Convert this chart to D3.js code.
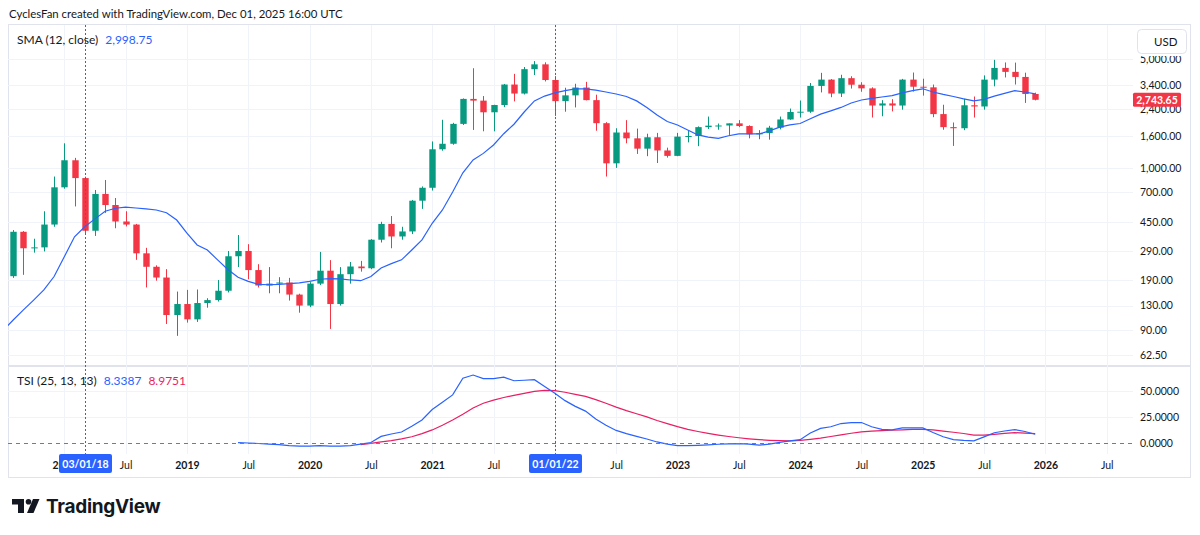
<!DOCTYPE html>
<html>
<head>
<meta charset="utf-8">
<script src="https://cdn.jsdelivr.net/npm/d3@7"></script>
<style>
  html, body { margin: 0; padding: 0; background: #ffffff; }
  svg { display: block; font-family: Lato, "Liberation Sans", sans-serif; }
</style>
</head>
<body>
<div id="chart"></div>
<script>
// ETHUSD monthly candles
const months = [
  "2017-08", "2017-09", "2017-10", "2017-11", "2017-12",
  "2018-01", "2018-02", "2018-03", "2018-04", "2018-05", "2018-06", "2018-07", "2018-08", "2018-09", "2018-10", "2018-11", "2018-12",
  "2019-01", "2019-02", "2019-03", "2019-04", "2019-05", "2019-06", "2019-07", "2019-08", "2019-09", "2019-10", "2019-11", "2019-12",
  "2020-01", "2020-02", "2020-03", "2020-04", "2020-05", "2020-06", "2020-07", "2020-08", "2020-09", "2020-10", "2020-11", "2020-12",
  "2021-01", "2021-02", "2021-03", "2021-04", "2021-05", "2021-06", "2021-07", "2021-08", "2021-09", "2021-10", "2021-11", "2021-12",
  "2022-01", "2022-02", "2022-03", "2022-04", "2022-05", "2022-06", "2022-07", "2022-08", "2022-09", "2022-10", "2022-11", "2022-12",
  "2023-01", "2023-02", "2023-03", "2023-04", "2023-05", "2023-06", "2023-07", "2023-08", "2023-09", "2023-10", "2023-11", "2023-12",
  "2024-01", "2024-02", "2024-03", "2024-04", "2024-05", "2024-06", "2024-07", "2024-08", "2024-09", "2024-10", "2024-11", "2024-12",
  "2025-01", "2025-02", "2025-03", "2025-04", "2025-05", "2025-06", "2025-07", "2025-08", "2025-09", "2025-10", "2025-11", "2025-12",
];

const open = [
  201, 388, 304, 308, 432,
  750, 1120, 860, 394, 680, 577, 452, 432, 282, 231, 197, 113,
  133, 106, 135, 141, 162, 270, 292, 220, 175, 180, 183, 153,
  130, 180, 218, 133, 207, 232, 226, 345, 436, 362, 390, 615,
  745, 1318, 1430, 1920, 2780, 2710, 2280, 2540, 3440, 3010, 4320, 4640,
  3680, 2690, 2930, 3290, 2730, 1940, 1070, 1690, 1550, 1330, 1575, 1295,
  1195, 1590, 1605, 1830, 1870, 1875, 1935, 1860, 1645, 1675, 1815, 2050,
  2290, 2300, 3370, 3700, 3010, 3780, 3430, 3250, 2520, 2600, 2520, 3700,
  3330, 3300, 2220, 1830, 1800, 2530, 2485, 3700, 4400, 4150, 3850, 2990,
];
const high = [
  398, 392, 350, 526, 880,
  1440, 1160, 878, 721, 836, 640, 526, 436, 306, 236, 223, 160,
  164, 165, 145, 190, 292, 370, 323, 240, 230, 198, 196, 155,
  184, 288, 255, 230, 248, 252, 348, 450, 490, 418, 622, 760,
  1480, 2040, 1950, 2800, 4380, 2900, 2550, 3470, 4030, 4460, 4870, 4780,
  3900, 3280, 3480, 3580, 2960, 1970, 1800, 2030, 1790, 1660, 1680, 1350,
  1680, 1740, 1850, 2140, 1930, 1930, 2030, 1880, 1750, 1865, 2140, 2410,
  2715, 3520, 4090, 3730, 3975, 3890, 3560, 3300, 2730, 2770, 3740, 4110,
  3750, 3440, 2550, 1960, 2790, 2880, 3940, 4960, 4770, 4760, 4100, 3050,
];
const low = [
  196, 205, 285, 290, 418,
  735, 565, 375, 365, 513, 409, 420, 256, 170, 188, 99, 83,
  101, 102, 126, 138, 158, 230, 192, 170, 156, 156, 140, 117,
  127, 176, 92, 130, 180, 215, 223, 331, 304, 345, 375, 545,
  715, 1290, 1410, 1890, 1755, 1720, 1720, 2460, 2680, 2970, 3960, 3600,
  2160, 2300, 2450, 2720, 1735, 880, 1000, 1440, 1230, 1190, 1075, 1165,
  1190, 1460, 1380, 1780, 1760, 1630, 1830, 1550, 1530, 1520, 1770, 2040,
  2110, 2260, 3060, 2850, 2860, 3240, 3090, 2110, 2150, 2310, 2370, 3100,
  2920, 2120, 1760, 1385, 1750, 2110, 2370, 3350, 3820, 3440, 2620, 2720,
];
const close = [
  388, 304, 308, 432, 750,
  1120, 860, 394, 680, 577, 452, 432, 282, 231, 197, 113, 133,
  106, 135, 141, 162, 270, 292, 220, 175, 180, 183, 153, 130,
  180, 218, 133, 207, 232, 226, 345, 436, 362, 390, 615, 745,
  1318, 1430, 1920, 2780, 2710, 2280, 2540, 3440, 3010, 4320, 4640, 3680,
  2690, 2930, 3290, 2730, 1940, 1070, 1690, 1550, 1330, 1575, 1295, 1195,
  1590, 1605, 1830, 1870, 1875, 1935, 1860, 1645, 1675, 1815, 2050, 2290,
  2300, 3370, 3700, 3010, 3780, 3430, 3250, 2520, 2600, 2520, 3700, 3330,
  3300, 2220, 1830, 1800, 2530, 2485, 3700, 4400, 4150, 3850, 2990, 2743.65,
];

// SMA (12, close), one value a month from 2017-07
const smaFrom = "2017-07";
const sma = [
  90, 105, 122, 141, 164, 200,
  268, 360, 418, 470, 526, 550, 560, 552, 545, 536, 515, 462,
  380, 319, 296, 256, 222, 198, 186, 178, 177, 178, 180, 182,
  186, 192, 194, 193, 190, 188, 200, 227, 242, 256, 296, 344,
  440, 536, 700, 930, 1125, 1240, 1405, 1660, 1910, 2290, 2700, 2900,
  3040, 3140, 3230, 3230, 3170, 3080, 2990, 2880, 2700, 2450, 2190, 1990,
  1890, 1755, 1630, 1580, 1550, 1610, 1655, 1655, 1655, 1730, 1830, 1890,
  1930, 2070, 2220, 2330, 2450, 2615, 2735, 2800, 2860, 2920, 3040, 3140,
  3230, 3080, 2970, 2880, 2780, 2700, 2760, 2900, 3020, 3140, 3080, 2998.75,
];

// TSI (25, 13, 13)
const tsiFrom = "2019-06";
const tsi = [
  0.3, 0, -0.5, -1, -1.5, -2.5, -3,
  -3, -2.5, -3, -3, -2.5, -1, 0.5, 6.3, 8.6, 10.5, 16, 22,
  32, 39, 46, 62, 65, 61.5, 61.5, 63, 59.5, 60, 60.5, 54,
  47.5, 40.5, 35, 30.5, 23, 17, 12, 9, 6.3, 3.8, 1, -1,
  -2.5, -2.5, -2.2, -1.8, -1.2, -0.8, -0.6, -1, -2, -1, 0.6, 2,
  3.2, 9.5, 14, 15.5, 18.6, 19.5, 19.6, 15.5, 13, 12.5, 14.4, 14.4,
  14.4, 10, 6, 3.3, 2.5, 2, 5.8, 9.8, 11.5, 12.8, 11, 8.3387,
];
const signalFrom = "2020-06";
const signal = [
  -1.5, -0.3, 1, 2.3, 4, 6, 9,
  12.5, 17, 22, 27.5, 33.5, 38, 41, 43.5, 45.5, 47.5, 49.3, 50.3,
  50, 48.5, 46.5, 44.5, 41.5, 38, 34.3, 31, 28, 25, 21.5, 18.5,
  15.6, 13, 11, 9.2, 7.6, 6.2, 5, 4, 3.2, 2.6, 2.2, 2,
  2.5, 3.5, 4.7, 6.2, 7.8, 9.3, 10.6, 11.4, 11.9, 12.2, 12.6, 13,
  13.1, 12.5, 11.4, 10.3, 9.1, 7.6, 7.6, 8.3, 9.2, 9.9, 9.5, 8.9751,
];

const timeTicks = [
  "2018-01", "2018-07", "2019-01", "2019-07", "2020-01", "2020-07", "2021-01", "2021-07", "2022-01",
  "2022-07", "2023-01", "2023-07", "2024-01", "2024-07", "2025-01", "2025-07", "2026-01", "2026-07",
];
const priceTicks = [62.5, 90, 130, 190, 290, 450, 700, 1000, 1600, 2400, 3400, 5000];
const tsiTicks = [0, 25, 50];
const markers = ["2018-03", "2022-01"];

const width = 1200;
const height = 535;
const frame = { left: 8, top: 25, right: 1191, bottom: 478 };
const plotRight = 1133;
const mainPane = { top: 25, bottom: 365 };
const tsiPane = { top: 367, bottom: 454 };

const colors = {
  up: "#089981",
  down: "#f23645",
  sma: "#2962ff",
  tsi: "#2962ff",
  signal: "#e91e63",
  grid: "#f0f3fa",
  border: "#e0e3eb",
  text: "#131722",
};

const monthIndex = (s) => {
  const [y, m] = s.split("-").map(Number);
  return (y - 2018) * 12 + (m - 1);
};
const fromStart = (start, values) =>
  values.map((v, i) => ({ t: monthIndex(start) + i, v }));

const candles = months.map((m, i) => ({
  t: monthIndex(m),
  o: open[i],
  h: high[i],
  l: low[i],
  c: close[i],
}));
const lastPrice = close[close.length - 1];

const svg = d3
  .select("#chart")
  .append("svg")
  .attr("width", width)
  .attr("height", height)
  .attr("viewBox", `0 0 ${width} ${height}`);

const x = d3
  .scaleLinear()
  .domain([monthIndex("2018-01"), monthIndex("2026-01")])
  .range([64.3, 1045.4]);

const y = d3.scaleLog().domain([62.5, 5000]).range([355, 59.3]);
const yTsi = d3.scaleLinear().domain([0, 50]).range([443, 390.7]);
const px = (v) => Math.round(v) + 0.5;

const defs = svg.append("defs");
defs.append("clipPath").attr("id", "clip-main")
  .append("rect")
  .attr("x", frame.left).attr("y", mainPane.top)
  .attr("width", plotRight - frame.left).attr("height", mainPane.bottom - mainPane.top);
defs.append("clipPath").attr("id", "clip-tsi")
  .append("rect")
  .attr("x", frame.left).attr("y", tsiPane.top)
  .attr("width", plotRight - frame.left).attr("height", tsiPane.bottom - tsiPane.top);

// header
svg.append("text")
  .attr("x", 9)
  .attr("y", 18)
  .attr("fill", colors.text)
  .attr("font-size", 11.4)
  .text("CyclesFan created with TradingView.com, Dec 01, 2025 16:00 UTC");

// frame
svg.append("rect")
  .attr("x", frame.left + 0.5)
  .attr("y", frame.top - 0.5)
  .attr("width", frame.right - frame.left - 1)
  .attr("height", frame.bottom - frame.top)
  .attr("fill", "none")
  .attr("stroke", colors.border);

svg.append("line")
  .attr("x1", frame.left).attr("x2", frame.right)
  .attr("y1", 366).attr("y2", 366)
  .attr("stroke", colors.border)
  .attr("stroke-width", 2);

// grid
const grid = svg.append("g");
grid.selectAll("line.v")
  .data(timeTicks)
  .join("line")
  .attr("x1", (d) => px(x(monthIndex(d))))
  .attr("x2", (d) => px(x(monthIndex(d))))
  .attr("y1", mainPane.top)
  .attr("y2", tsiPane.bottom)
  .attr("stroke", colors.grid);

grid.selectAll("line.h")
  .data(priceTicks)
  .join("line")
  .attr("x1", frame.left)
  .attr("x2", plotRight)
  .attr("y1", (d) => px(y(d)))
  .attr("y2", (d) => px(y(d)))
  .attr("stroke", colors.grid);

grid.selectAll("line.t")
  .data(tsiTicks.filter((d) => d !== 0))
  .join("line")
  .attr("x1", frame.left)
  .attr("x2", plotRight)
  .attr("y1", (d) => px(yTsi(d)))
  .attr("y2", (d) => px(yTsi(d)))
  .attr("stroke", colors.grid);

// candles
const main = svg.append("g").attr("clip-path", "url(#clip-main)");
const bodyW = 6.4;

const candle = main.selectAll("g.candle")
  .data(candles)
  .join("g")
  .attr("fill", (d) => (d.c >= d.o ? colors.up : colors.down))
  .attr("stroke", (d) => (d.c >= d.o ? colors.up : colors.down));

candle.append("line")
  .attr("x1", (d) => px(x(d.t)))
  .attr("x2", (d) => px(x(d.t)))
  .attr("y1", (d) => y(d.h))
  .attr("y2", (d) => y(d.l))
  .attr("stroke-width", 1);

candle.append("rect")
  .attr("x", (d) => px(x(d.t)) - bodyW / 2)
  .attr("y", (d) => y(Math.max(d.o, d.c)))
  .attr("width", bodyW)
  .attr("height", (d) => Math.max(1, Math.abs(y(d.o) - y(d.c))))
  .attr("stroke", "none");

main.append("path")
  .datum(fromStart(smaFrom, sma))
  .attr("fill", "none")
  .attr("stroke", colors.sma)
  .attr("stroke-width", 1.2)
  .attr("d", d3.line().x((d) => x(d.t)).y((d) => y(d.v)));

// TSI pane
const lower = svg.append("g").attr("clip-path", "url(#clip-tsi)");

svg.append("line")
  .attr("x1", frame.left)
  .attr("x2", plotRight)
  .attr("y1", px(yTsi(0)))
  .attr("y2", px(yTsi(0)))
  .attr("stroke", "#787b86")
  .attr("stroke-dasharray", "4,4");

lower.append("path")
  .datum(fromStart(signalFrom, signal))
  .attr("fill", "none")
  .attr("stroke", colors.signal)
  .attr("stroke-width", 1.2)
  .attr("d", d3.line().x((d) => x(d.t)).y((d) => yTsi(d.v)));

lower.append("path")
  .datum(fromStart(tsiFrom, tsi))
  .attr("fill", "none")
  .attr("stroke", colors.tsi)
  .attr("stroke-width", 1.2)
  .attr("d", d3.line().x((d) => x(d.t)).y((d) => yTsi(d.v)));

// vertical markers
svg.selectAll("line.marker")
  .data(markers)
  .join("line")
  .attr("x1", (d) => px(x(monthIndex(d))))
  .attr("x2", (d) => px(x(monthIndex(d))))
  .attr("y1", mainPane.top)
  .attr("y2", tsiPane.bottom)
  .attr("stroke", "#2962ff")
  .attr("stroke-width", 1)
  .attr("stroke-dasharray", "2,2")
  .attr("shape-rendering", "crispEdges");

// legends: each value sits right after its title
function legendRow(yPos, title, items) {
  const row = svg.append("g").attr("font-size", 12);
  const t = row.append("text").attr("x", 17).attr("y", yPos).attr("fill", colors.text).text(title);
  let cursor = 17 + t.node().getComputedTextLength() + 7;
  items.forEach((item) => {
    const v = row.append("text").attr("x", cursor).attr("y", yPos).attr("fill", item.color).text(item.text);
    cursor += v.node().getComputedTextLength() + 7;
  });
}
legendRow(44, "SMA (12, close)", [
  { text: d3.format(",.2f")(sma[sma.length - 1]), color: colors.sma },
]);
legendRow(385, "TSI (25, 13, 13)", [
  { text: d3.format(".4f")(tsi[tsi.length - 1]), color: colors.tsi },
  { text: d3.format(".4f")(signal[signal.length - 1]), color: colors.signal },
]);

// price axis
svg.append("g")
  .attr("transform", `translate(${plotRight}, 0)`)
  .call(d3.axisRight(y).tickValues(priceTicks).tickFormat(d3.format(",.2f")).tickSize(0).tickPadding(7))
  .call((g) => g.select(".domain").remove())
  .call((g) => g.selectAll("text").attr("fill", colors.text).attr("font-size", 10.5).attr("font-family", "Lato, sans-serif"));

svg.append("g")
  .attr("transform", `translate(${plotRight}, 0)`)
  .call(d3.axisRight(yTsi).tickValues(tsiTicks).tickFormat(d3.format(".4f")).tickSize(0).tickPadding(7))
  .call((g) => g.select(".domain").remove())
  .call((g) => g.selectAll("text").attr("fill", colors.text).attr("font-size", 10.5).attr("font-family", "Lato, sans-serif"));

// USD button, on a white strip that hides the top of the highest label
svg.append("rect")
  .attr("x", plotRight + 1).attr("y", 26)
  .attr("width", frame.right - plotRight - 2).attr("height", 30)
  .attr("fill", "#ffffff");
svg.append("rect")
  .attr("x", 1137.5).attr("y", 29.5)
  .attr("width", 49).attr("height", 24)
  .attr("rx", 4)
  .attr("fill", "#ffffff")
  .attr("stroke", colors.border);
svg.append("text")
  .attr("x", 1154).attr("y", 45.5)
  .attr("fill", colors.text)
  .attr("font-size", 11.5)
  .text("USD");

// last price tag
svg.append("rect")
  .attr("x", plotRight)
  .attr("y", y(lastPrice) - 7)
  .attr("width", 48)
  .attr("height", 14)
  .attr("rx", 1.5)
  .attr("fill", colors.down);
svg.append("text")
  .attr("x", plotRight + 24)
  .attr("y", y(lastPrice) + 3.8)
  .attr("text-anchor", "middle")
  .attr("fill", "#ffffff")
  .attr("font-size", 10.5)
  .attr("font-weight", 700)
  .text(d3.format(",.2f")(lastPrice));

// time axis; a label that sits fully under a marker tag is not drawn
const hidden = new Set(markers.map(monthIndex));
svg.append("g")
  .attr("transform", `translate(0, ${tsiPane.bottom})`)
  .call(
    d3.axisBottom(x)
      .tickValues(timeTicks.map(monthIndex).filter((t) => !hidden.has(t)))
      .tickFormat((t) => (t % 12 === 0 ? String(2018 + t / 12) : "Jul"))
      .tickSize(0)
      .tickPadding(8),
  )
  .call((g) => g.select(".domain").remove())
  .call((g) =>
    g.selectAll("text")
      .attr("fill", colors.text)
      .attr("font-size", 10.5)
      .attr("font-family", "Lato, sans-serif")
      .attr("font-weight", (t) => (t % 12 === 0 ? 700 : 400)),
  );

const fmtMarker = (s) => {
  const [yy, mm] = s.split("-");
  return `${mm}/01/${yy.slice(2)}`;
};
const tags = svg.selectAll("g.tag")
  .data(markers)
  .join("g")
  .attr("transform", (d) => `translate(${px(x(monthIndex(d)))}, ${tsiPane.bottom})`);
tags.append("rect")
  .attr("x", -26.5).attr("y", 0)
  .attr("width", 53).attr("height", 19)
  .attr("rx", 2)
  .attr("fill", "#2962ff");
tags.append("text")
  .attr("y", 13.5)
  .attr("text-anchor", "middle")
  .attr("fill", "#ffffff")
  .attr("font-size", 10.5)
  .attr("font-weight", 700)
  .text(fmtMarker);

// footer logo
const logo = svg.append("g").attr("transform", "translate(12, 499)").attr("fill", "#131722");
logo.append("path").attr("d", "M0 0 H12 V14 H6 V5.5 H0 Z");
logo.append("circle").attr("cx", 16.5).attr("cy", 2.8).attr("r", 2.8);
logo.append("path").attr("d", "M21 0 H27.5 L21.5 14 H15 Z");
svg.append("text")
  .attr("x", 46)
  .attr("y", 513)
  .attr("fill", "#131722")
  .attr("font-family", "Inter, sans-serif")
  .attr("font-weight", 700)
  .attr("font-size", 19)
  .attr("letter-spacing", -0.3)
  .text("TradingView");
</script>
</body>
</html>
